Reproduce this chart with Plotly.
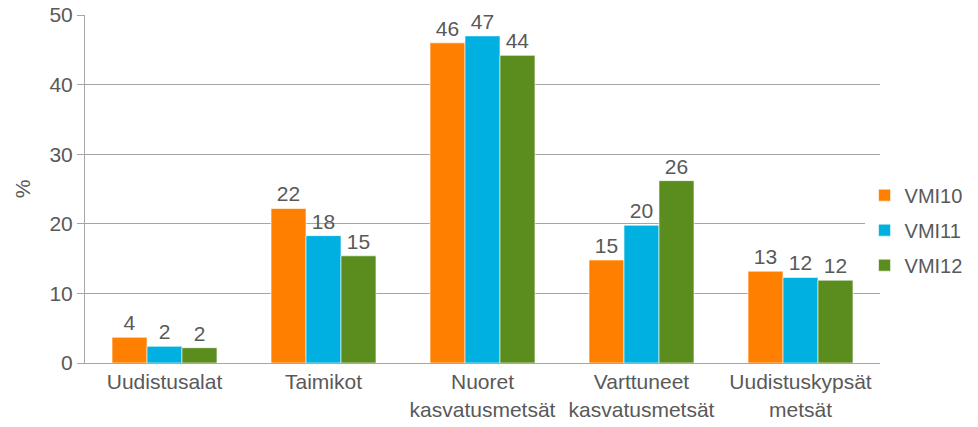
import plotly.graph_objects as go

categories = ["Uudistusalat", "Taimikot", "Nuoret<br>kasvatusmetsät",
              "Varttuneet<br>kasvatusmetsät", "Uudistuskypsät<br>metsät"]
vmi10 = [3.7, 22.2, 46.0, 14.8, 13.2]
vmi11 = [2.4, 18.3, 47.0, 19.8, 12.3]
vmi12 = [2.2, 15.4, 44.2, 26.2, 11.9]
series = [("VMI10", vmi10, "#FF8000"), ("VMI11", vmi11, "#00B0E0"), ("VMI12", vmi12, "#5B8C1E")]

FS = 21
fig = go.Figure()
for name, vals, col in series:
    fig.add_trace(go.Bar(
        x=categories, y=vals, name=name, legendgroup=name,
        marker=dict(color=col, line=dict(color="rgba(255,255,255,0.6)", width=1)),
        text=[f"{round(v):d}" for v in vals], textposition="outside",
        textfont=dict(size=FS, color="#595959"), cliponaxis=False,
    ))

fig.update_layout(
    width=978, height=427,
    margin=dict(l=85, r=98, t=15, b=64, autoexpand=False),
    paper_bgcolor="white", plot_bgcolor="white",
    font=dict(family="Liberation Sans, Arial, sans-serif", color="#595959", size=FS),
    barmode="group", bargap=0.34, bargroupgap=0,
    showlegend=True,
    legend=dict(x=0.884, y=0.461, xref="container", yref="container",
                yanchor="middle", xanchor="left",
                font=dict(size=20, color="#595959"), itemwidth=30,
                tracegroupgap=6),
)
fig.update_yaxes(range=[0, 50], dtick=10, showgrid=True, gridcolor="#A6A6A6",
                 gridwidth=1, showline=True, linecolor="#A6A6A6", ticks="outside",
                 ticklen=7, tickcolor="#A6A6A6", tickfont=dict(size=FS),
                 title=dict(text="%", font=dict(size=FS), standoff=13), zeroline=False,
                 automargin=False)
fig.update_xaxes(showline=True, linecolor="#A6A6A6", ticks="", tickfont=dict(size=FS),
                 automargin=False)

fig.write_html("out.html", config={"displayModeBar": False},
               post_script="document.body.style.margin='0';")
